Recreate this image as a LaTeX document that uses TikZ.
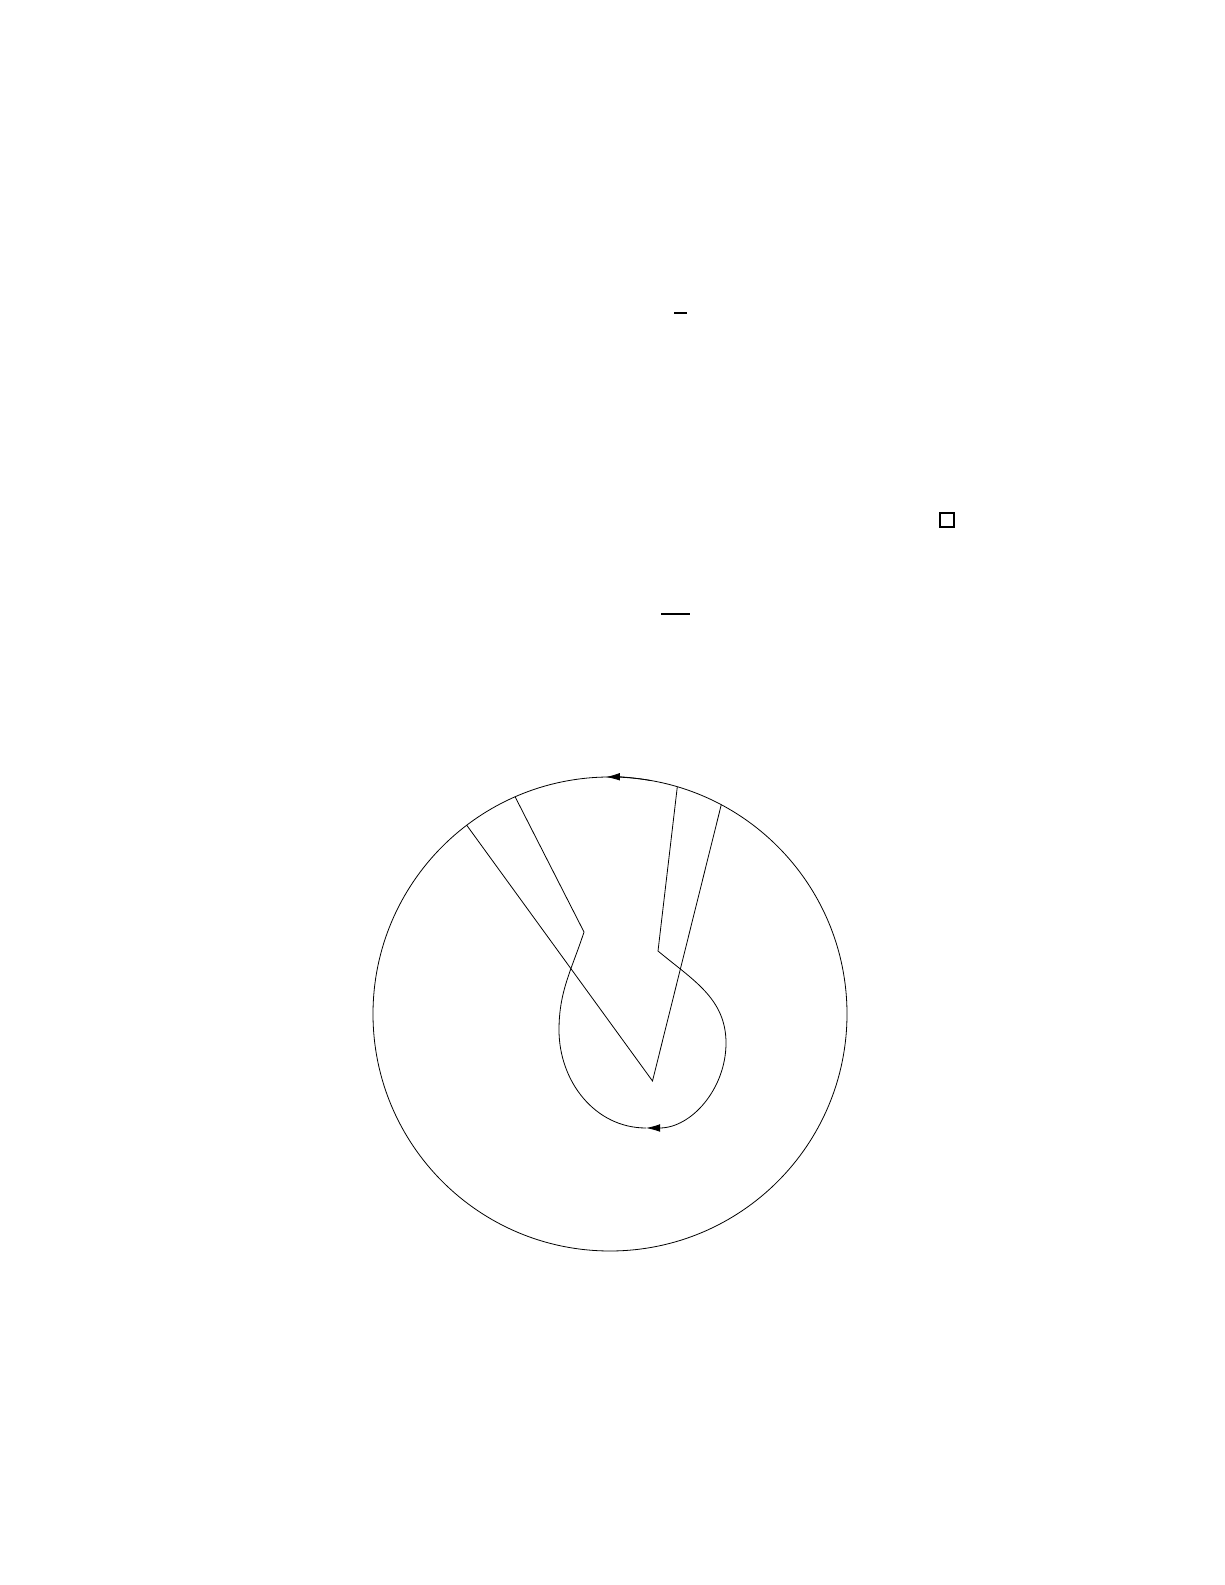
\documentclass[tikz,border=0pt]{standalone}
\usepackage{amsmath}
\usepackage{amssymb}
\usepackage{tikz}
\usetikzlibrary{arrows.meta, calc}

\begin{document}
\begin{tikzpicture}[x=0.5pt, y=0.5pt,
		flow/.style = {-{Latex[length=7pt, width=3.8pt]}},
		bar/.style = {line width=1pt},
		qed/.style = {line width=0.65pt}]
	\useasboundingbox (0,0) rectangle (1225,1585);
	% what is left of the text above the figure
	\coordinate (barA1) at (674,1272);
	\coordinate (barA2) at (687,1272);
	\coordinate (barB1) at (661,971);
	\coordinate (barB2) at (690,971);
	\coordinate (box1) at (940,1058);
	\coordinate (box2) at (954,1072);
	\draw[bar] (barA1) -- (barA2);
	\draw[bar] (barB1) -- (barB2);
	\draw[qed] (box1) rectangle (box2);
	% the disc
	\coordinate (C) at (610,571);
	\draw (C) circle[radius=237];
	\coordinate (T0) at ($(C)+(80:237)$);
	\draw[flow] (T0) arc[start angle=80, end angle=91, radius=237];
	% points on the rim
	\coordinate (P1) at ($(C)+(127.2:237)$);
	\coordinate (P3) at ($(C)+(62:237)$);
	\coordinate (Q1) at ($(C)+(113.6:237)$);
	\coordinate (Q4) at ($(C)+(73.5:237)$);
	% points inside
	\coordinate (P2) at (652.5,504);
	\coordinate (Q2) at (584,653);
	\coordinate (Q3) at (658,634);
	\coordinate (R) at (726,542);
	\coordinate (B) at (646,457);
	\coordinate (L) at (559,555);
	\draw (P1) -- (P2) -- (P3);
	\draw[flow] (Q4) -- (Q3) to[out=-40, in=90] (R) to[out=-90, in=0] (B);
	\draw (B) to[out=180, in=-90] (L) to[out=90, in=-108] (Q2) -- (Q1);
\end{tikzpicture}
\end{document}
